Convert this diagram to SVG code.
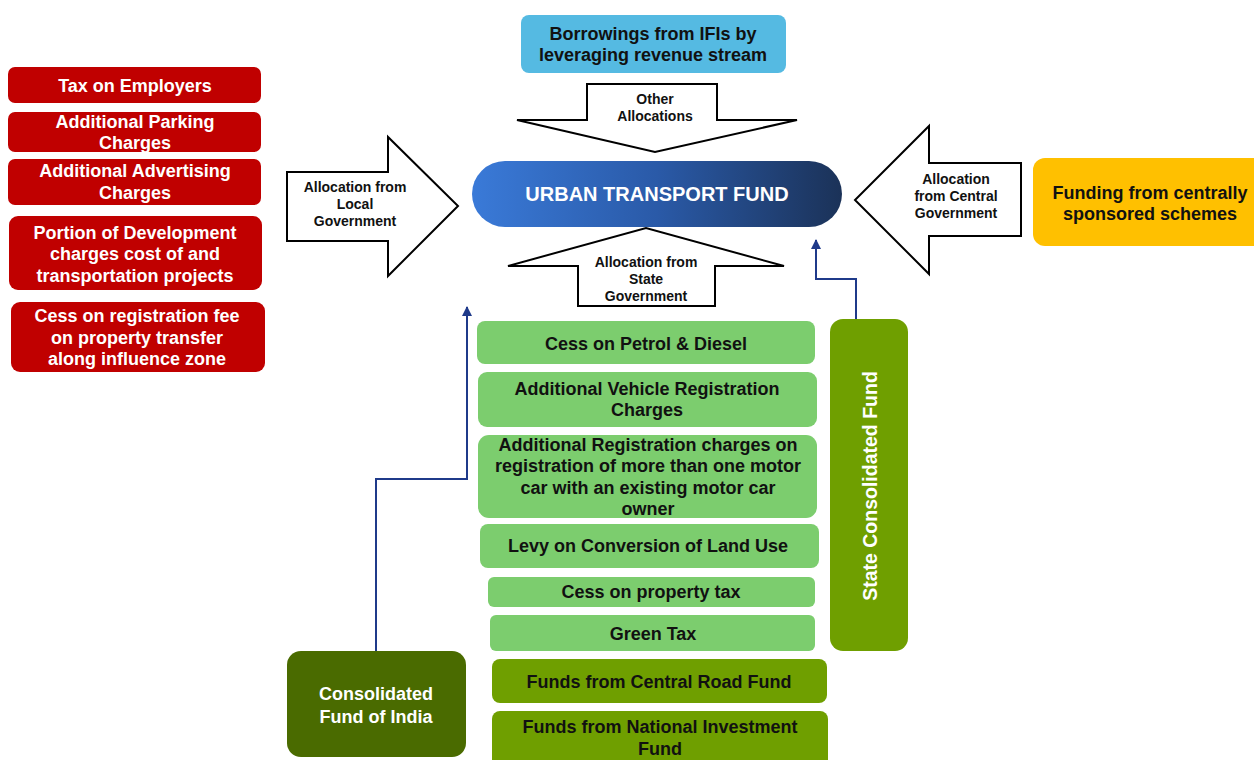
<svg xmlns="http://www.w3.org/2000/svg" width="1254" height="760" viewBox="0 0 1254 760">
  <defs>
    <linearGradient id="utfGrad" x1="0" y1="0" x2="1" y2="0">
      <stop offset="0" stop-color="#3a7ad8"/>
      <stop offset="0.5" stop-color="#2a5aa8"/>
      <stop offset="1" stop-color="#1b3258"/>
    </linearGradient>
    <marker id="arrowHead" viewBox="0 0 10 10" refX="9" refY="5" markerWidth="10" markerHeight="10" markerUnits="userSpaceOnUse" orient="auto">
      <path d="M0,0 L10,5 L0,10 Z" fill="#1f3a8a"/>
    </marker>
  </defs>
  <style>
    text { font-family: "Liberation Sans", Arial, sans-serif; font-weight: bold; text-anchor: middle; }
    .red rect { fill: #c00000; }
    .red text { fill: #ffffff; font-size: 18px; }
    .lg rect { fill: #7ccd6e; }
    .dg rect { fill: #6f9f00; }
    .lg text, .dg text { fill: #111111; font-size: 18px; }
    .arrow path { fill: #ffffff; stroke: #000000; stroke-width: 2; stroke-linejoin: miter; }
    .arrow text { fill: #111111; font-size: 14px; }
    .conn path { fill: none; stroke: #1f3a8a; stroke-width: 2; }
  </style>
  <rect width="1254" height="760" fill="#ffffff"/>

  <!-- local government sources -->
  <g id="tax-employers" class="red">
    <rect x="8" y="67" width="253" height="36" rx="7"/>
    <text x="135" y="92">Tax on Employers</text>
  </g>
  <g id="parking" class="red">
    <rect x="8" y="112" width="253" height="40" rx="7"/>
    <text x="135" y="128">Additional Parking</text>
    <text x="135" y="149">Charges</text>
  </g>
  <g id="advertising" class="red">
    <rect x="8" y="159" width="253" height="46" rx="7"/>
    <text x="135" y="177">Additional Advertising</text>
    <text x="135" y="199">Charges</text>
  </g>
  <g id="development" class="red">
    <rect x="9" y="216" width="253" height="74" rx="9"/>
    <text x="135" y="239">Portion of Development</text>
    <text x="135" y="260">charges cost of  and</text>
    <text x="135" y="282">transportation projects</text>
  </g>
  <g id="cess-registration" class="red">
    <rect x="11" y="302" width="254" height="70" rx="9"/>
    <text x="137" y="322">Cess on registration fee</text>
    <text x="137" y="344">on property transfer</text>
    <text x="137" y="365">along influence zone</text>
  </g>

  <!-- borrowings -->
  <g id="borrowings">
    <rect x="521" y="15" width="265" height="58" rx="8" fill="#55bae2"/>
    <text x="653" y="40" font-size="18" fill="#111111">Borrowings from IFIs by</text>
    <text x="653" y="61" font-size="18" fill="#111111">leveraging revenue stream</text>
  </g>

  <!-- block arrows -->
  <g id="other-allocations" class="arrow">
    <path d="M587,84 L717,84 L717,120 L797,120 L655,152 L517,120 L587,120 Z"/>
    <text x="655" y="104">Other</text>
    <text x="655" y="121">Allocations</text>
  </g>
  <g id="local-allocation" class="arrow">
    <path d="M287,172 L388,172 L388,137 L458,206 L388,276 L388,241 L287,241 Z"/>
    <text x="355" y="192">Allocation  from</text>
    <text x="355" y="209">Local</text>
    <text x="355" y="226">Government</text>
  </g>
  <g id="state-allocation" class="arrow">
    <path d="M578,306 L715,306 L715,266 L784,266 L646,228 L508,266 L578,266 Z"/>
    <text x="646" y="267">Allocation  from</text>
    <text x="646" y="284">State</text>
    <text x="646" y="301">Government</text>
  </g>
  <g id="central-allocation" class="arrow">
    <path d="M1021,163 L929,163 L929,126 L855,200 L929,274 L929,236 L1021,236 Z"/>
    <text x="956" y="184">Allocation</text>
    <text x="956" y="201">from Central</text>
    <text x="956" y="218">Government</text>
  </g>

  <!-- fund -->
  <g id="urban-transport-fund">
    <rect x="472" y="161" width="370" height="66" rx="33" fill="url(#utfGrad)"/>
    <text x="657" y="201" font-size="20" fill="#ffffff">URBAN  TRANSPORT FUND</text>
  </g>

  <!-- central schemes -->
  <g id="centrally-sponsored">
    <rect x="1033" y="158" width="235" height="88" rx="12" fill="#ffc000"/>
    <text x="1150" y="199" font-size="18" fill="#111111">Funding from centrally</text>
    <text x="1150" y="220" font-size="18" fill="#111111">sponsored schemes</text>
  </g>

  <!-- state sources -->
  <g id="cess-petrol" class="lg">
    <rect x="477" y="321" width="338" height="43" rx="8"/>
    <text x="646" y="350">Cess on Petrol &amp; Diesel</text>
  </g>
  <g id="vehicle-registration" class="lg">
    <rect x="478" y="372" width="339" height="55" rx="9"/>
    <text x="647" y="395">Additional Vehicle Registration</text>
    <text x="647" y="416">Charges</text>
  </g>
  <g id="extra-car-registration" class="lg">
    <rect x="478" y="435" width="339" height="83" rx="11"/>
    <text x="648" y="451">Additional Registration charges on</text>
    <text x="648" y="472">registration of more than one motor</text>
    <text x="648" y="494">car with  an existing motor car</text>
    <text x="648" y="515">owner</text>
  </g>
  <g id="land-use" class="lg">
    <rect x="480" y="524" width="339" height="44" rx="8"/>
    <text x="648" y="552">Levy on Conversion of Land Use</text>
  </g>
  <g id="property-tax" class="lg">
    <rect x="488" y="577" width="327" height="30" rx="6"/>
    <text x="651" y="598">Cess on property tax</text>
  </g>
  <g id="green-tax" class="lg">
    <rect x="490" y="615" width="325" height="36" rx="6"/>
    <text x="653" y="640">Green Tax</text>
  </g>

  <!-- central sources -->
  <g id="central-road-fund" class="dg">
    <rect x="492" y="659" width="335" height="44" rx="8"/>
    <text x="659" y="688">Funds from Central Road Fund</text>
  </g>
  <g id="national-investment-fund" class="dg">
    <rect x="492" y="711" width="336" height="60" rx="8"/>
    <text x="660" y="733">Funds from National Investment</text>
    <text x="660" y="755">Fund</text>
  </g>

  <g id="state-consolidated-fund">
    <rect x="830" y="319" width="78" height="332" rx="13" fill="#6f9f00"/>
    <text transform="translate(877,486) rotate(-90)" font-size="19.5" fill="#ffffff">State Consolidated Fund</text>
  </g>

  <g id="consolidated-fund-india">
    <rect x="287" y="651" width="179" height="106" rx="14" fill="#4a6b00"/>
    <text x="376" y="700" font-size="18" fill="#ffffff">Consolidated</text>
    <text x="376" y="723" font-size="18" fill="#ffffff">Fund of India</text>
  </g>

  <!-- connectors -->
  <g id="connectors" class="conn">
    <path d="M376,651 L376,479 L467,479 L467,307" marker-end="url(#arrowHead)"/>
    <path d="M856,319 L856,279 L816,279 L816,240" marker-end="url(#arrowHead)"/>
  </g>
</svg>
